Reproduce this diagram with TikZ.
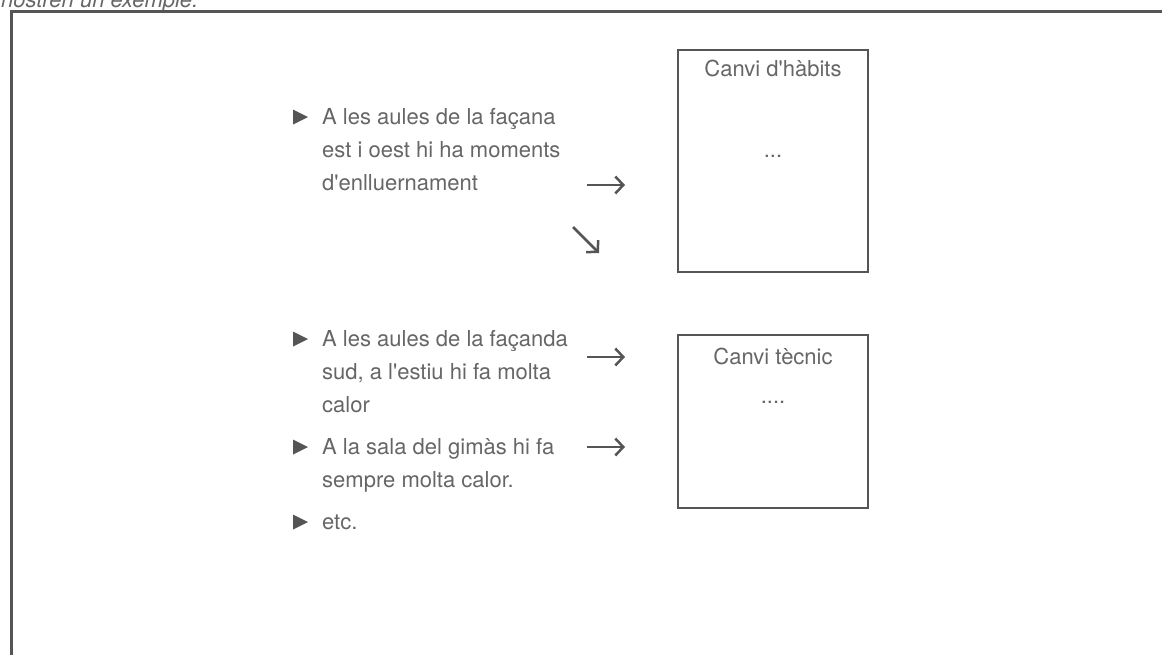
\documentclass[tikz,border=0pt]{standalone}
\usepackage{fontspec}
\setmainfont{TeX Gyre Heros}[Ligatures=TeXOff]
\usetikzlibrary{positioning, arrows.meta}
\definecolor{inkgray}{HTML}{555555}
\definecolor{textgray}{HTML}{666666}

\tikzset{
	itembullet/.pic={\fill[inkgray] (0,-7.5) -- (15,0) -- (0,7.5) -- cycle;},
	itemtext/.style={anchor=base west, inner sep=0pt, align=left},
	changebox/.style={draw=inkgray, line width=2.5pt, minimum width=190pt, inner sep=0pt},
	thinarrow/.style={draw=inkgray, line width=2.5pt, -{Straight Barb[length=8pt, width=17pt]}}
}

\begin{document}
\begin{tikzpicture}[x=1pt, y=-1pt, font=\fontsize{22}{33}\selectfont, text=textgray]
\clip (0,0) rectangle (1162,654);
% caption cut at the top
\node[anchor=base west, inner sep=0pt, font=\fontsize{22}{33}\selectfont\itshape] (caption) at (1,7) {nostren un exemple.};
% outer frame
\draw[inkgray, line width=3pt] (11,700) |- (1200,11);

% bullet items (placed at the baseline of their last line)
\node[itemtext] (item1) at (322,190) {A les aules de la façana\\est i oest hi ha moments\\d'enlluernament};
\node[itemtext] (item2) at (322,412) {A les aules de la façanda\\sud, a l'estiu hi fa molta\\calor};
\node[itemtext] (item3) at (322,487) {A la sala del gimàs hi fa\\sempre molta calor.};
\node[itemtext] (item4) at (322,529) {etc.};
\foreach \it/\lines in {item1/3, item2/3, item3/2, item4/1} {
	\pgfmathsetmacro\up{-7-33*(\lines-1)}
	\pic at ([shift={(-29,\up)}]\it.base west) {itembullet};
}

% boxes
\node[changebox, minimum height=222pt] (habits) at (773,161) {};
\node[anchor=base, inner sep=0pt] (habits-title) at ([yshift=-28pt]habits.north) {Canvi d'hàbits};
\node[anchor=base, inner sep=0pt] (habits-dots) at ([yshift=-109pt]habits.north) {...};
\node[changebox, minimum height=173pt] (tecnic) at (773,421.5) {};
\node[anchor=base, inner sep=0pt] (tecnic-title) at ([yshift=-31pt]tecnic.north) {Canvi tècnic};
\node[anchor=base, inner sep=0pt] (tecnic-dots) at ([yshift=-70pt]tecnic.north) {....};

% arrows
\coordinate (a1-from) at (587,185);
\coordinate (a1-to) at (625,185);
\coordinate (a2-from) at (573,227);
\coordinate (a2-to) at (599,253);
\coordinate (a3-from) at (587,357);
\coordinate (a3-to) at (625,357);
\coordinate (a4-from) at (587,447);
\coordinate (a4-to) at (625,447);
\foreach \a in {a1, a2, a3, a4} {
	\draw[thinarrow] (\a-from) -- (\a-to);
}
\end{tikzpicture}
\end{document}
